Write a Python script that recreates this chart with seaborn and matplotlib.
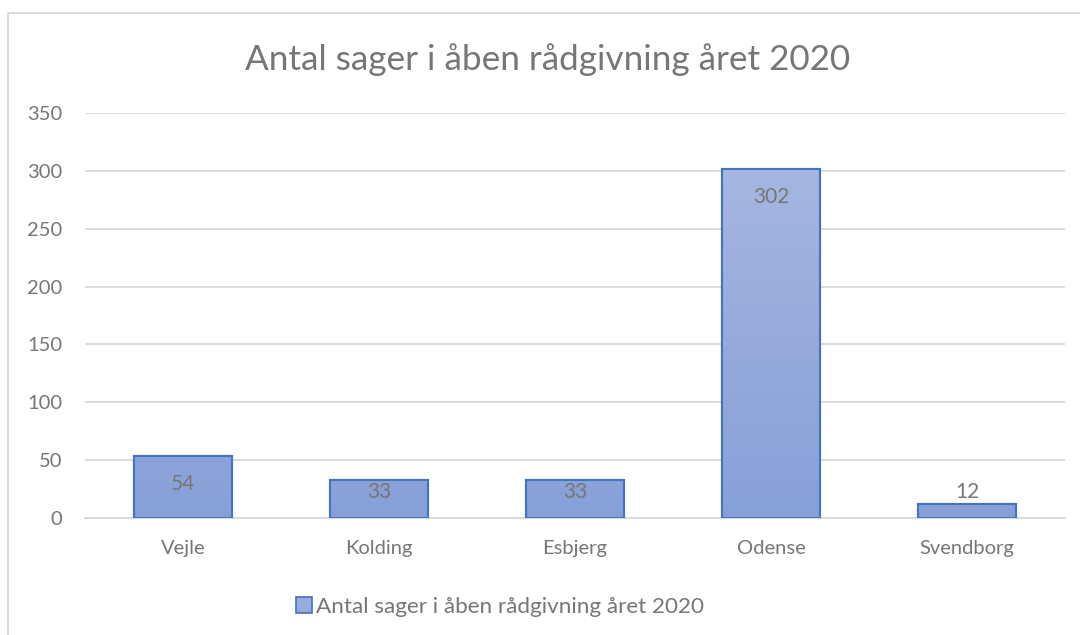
import numpy as np
import pandas as pd
import seaborn as sns
from matplotlib import pyplot as plt
from matplotlib.colors import LinearSegmentedColormap
from matplotlib.patches import Rectangle, Patch


byer = ["Vejle", "Kolding", "Esbjerg", "Odense", "Svendborg"]
sager = [54, 33, 33, 302, 12]
serie_navn = "Antal sager i åben rådgivning året 2020"
titel = "Antal sager i åben rådgivning året 2020"

data = pd.DataFrame({"By": byer, "Sager": sager})

sns.set_style("white")
plt.rcParams["font.family"] = ["Lato", "DejaVu Sans"]

grey = "#767676"
edge = "#4472c4"

fig = plt.figure(figsize=(10.8, 6.35), dpi=100)
ax = fig.add_axes([85 / 1080, 1 - 518 / 635, 980 / 1080, 405 / 635])

sns.barplot(data=data, x="By", y="Sager", ax=ax, width=0.5,
            color="#98acdc", edgecolor=edge, linewidth=1.5, zorder=3)

ax.set_ylim(0, 350)
ax.set_xlim(-0.5, len(byer) - 0.5)
ax.set_yticks(range(0, 351, 50))
ax.yaxis.grid(True, color="#d9d9d9", linewidth=1.3, zorder=0)
ax.xaxis.grid(False)
for s in ["top", "right", "left"]:
    ax.spines[s].set_visible(False)
ax.spines["bottom"].set_color("#d9d9d9")
ax.spines["bottom"].set_linewidth(1.3)
ax.tick_params(axis="both", length=0, labelsize=14.5, colors=grey)
ax.tick_params(axis="x", pad=16)
ax.tick_params(axis="y", pad=16.5)
ax.set_xlabel("")
ax.set_ylabel("")

# gradient fill inside each bar
cmap = LinearSegmentedColormap.from_list("grad", ["#87a0d8", "#aabae1"])
grad = np.linspace(0, 1, 256).reshape(-1, 1)
for bar in ax.patches:
    x0, y0 = bar.get_x(), bar.get_y()
    w, h = bar.get_width(), bar.get_height()
    im = ax.imshow(grad, cmap=cmap, origin="lower", aspect="auto",
                   extent=[x0, x0 + w, 0, 350], zorder=3.5)
    im.set_clip_path(bar)
    ax.add_patch(Rectangle((x0, y0), w, h, fill=False, edgecolor=edge,
                           linewidth=1.5, zorder=4))
ax.set_xlim(-0.5, len(byer) - 0.5)
ax.set_ylim(0, 350)

# data labels
px_per_unit = 405 / 350
for i, v in enumerate(sager):
    h_px = v * px_per_unit
    if h_px < 25:
        ax.annotate(str(v), (i, v), xytext=(0, 2), textcoords="offset pixels",
                    ha="center", va="bottom", fontsize=15, color=grey, zorder=5)
    else:
        off = min(28, h_px - 26)
        ax.annotate(str(v), (i, v), xytext=(0, -off), textcoords="offset pixels",
                    ha="center", va="center", fontsize=15, color=grey, zorder=5)

fig.text(548 / 1080, 1 - 60 / 635, titel, ha="center", va="center",
         fontsize=25.3, color=grey)

handle = Patch(facecolor="#98acdc", edgecolor=edge, linewidth=1.2)
fig.legend([handle], [serie_navn], loc="center", bbox_to_anchor=(500 / 1080, 1 - 607 / 635),
           frameon=False, fontsize=16.2, labelcolor=grey, handlelength=0.7,
           handleheight=0.7, handletextpad=0.2)

fig.patches.append(Rectangle((8 / 1080, -0.1), 1.2, 1 - 13 / 635 + 0.1,
                             transform=fig.transFigure, fill=False,
                             edgecolor="#d9d9d9", linewidth=1.3))

fig.savefig("out.png", dpi=100)
